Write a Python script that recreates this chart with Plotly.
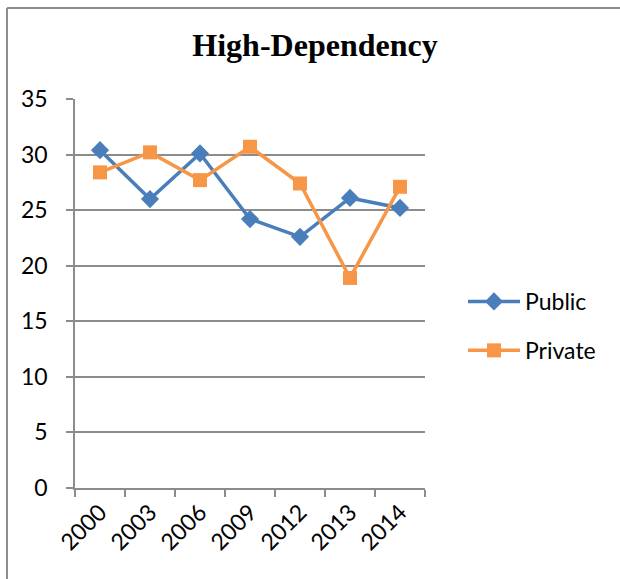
import plotly.graph_objects as go

# Survey years and high-dependency shares by sector
years = ["2000", "2003", "2006", "2009", "2012", "2013", "2014"]
public = [30.4, 26.0, 30.1, 24.2, 22.6, 26.1, 25.2]
private = [28.4, 30.2, 27.7, 30.7, 27.4, 18.9, 27.1]
y_ticks = [0, 5, 10, 15, 20, 25, 30, 35]

W, H = 620, 579
L, R, T, B = 75, 195, 99, 91
pw, ph = W - L - R, H - T - B

def px_x(x):
    return (x - L) / pw

def px_y(y):
    return (H - B - y) / ph

BLUE = "#4a7ebb"
ORANGE = "#f79646"
GREY = "#8c8c8c"
FONT = "Lato"

fig = go.Figure()
fig.add_trace(go.Scatter(
    x=years, y=public, name="Public", mode="lines+markers",
    line=dict(color=BLUE, width=3.5),
    marker=dict(symbol="diamond", size=14, color=BLUE),
    legendgroup="a",
))
fig.add_trace(go.Scatter(
    x=years, y=private, name="Private", mode="lines+markers",
    line=dict(color=ORANGE, width=3.5),
    marker=dict(symbol="square", size=14, color=ORANGE),
    legendgroup="b",
))

fig.update_layout(
    width=W, height=H,
    margin=dict(l=L, r=R, t=T, b=B),
    paper_bgcolor="white", plot_bgcolor="white",
    font=dict(family=FONT, size=23, color="black"),
    title=dict(
        text="<b>High-Dependency</b>",
        font=dict(family="Liberation Serif", size=32, color="black"),
        x=315 / W, xanchor="center", xref="container",
        y=1 - 45 / H, yanchor="middle", yref="container",
    ),
    showlegend=True,
    legend=dict(
        x=px_x(463), xanchor="left",
        y=px_y(326), yanchor="middle",
        font=dict(family=FONT, size=23, color="black"),
        traceorder="grouped", tracegroupgap=16,
        itemwidth=52,
        bgcolor="rgba(0,0,0,0)",
    ),
    xaxis=dict(
        type="category", range=[-0.5, 6.5],
        showgrid=False, showline=True, linecolor=GREY, linewidth=1.5,
        ticks="outside", tickson="boundaries", ticklen=7,
        tickcolor=GREY, tickwidth=1.5,
        tickangle=-45, tickfont=dict(family=FONT, size=23),
        zeroline=False,
    ),
    yaxis=dict(
        range=[0, 35], tickvals=y_ticks,
        showgrid=True, gridcolor=GREY, gridwidth=1.5,
        showline=True, linecolor=GREY, linewidth=1.5,
        ticks="outside", ticklen=7, tickcolor=GREY, tickwidth=1.5,
        tickfont=dict(family=FONT, size=23),
        ticklabelstandoff=14,
        zeroline=False,
    ),
    shapes=[
        # outer chart frame (left and top edges)
        dict(type="line", xref="paper", yref="paper",
             x0=px_x(7), x1=px_x(7), y0=px_y(H + 5), y1=px_y(8),
             line=dict(color=GREY, width=2)),
        dict(type="line", xref="paper", yref="paper",
             x0=px_x(7), x1=px_x(W + 5), y0=px_y(8), y1=px_y(8),
             line=dict(color=GREY, width=2)),
    ],
)

fig.write_html("out.html")
